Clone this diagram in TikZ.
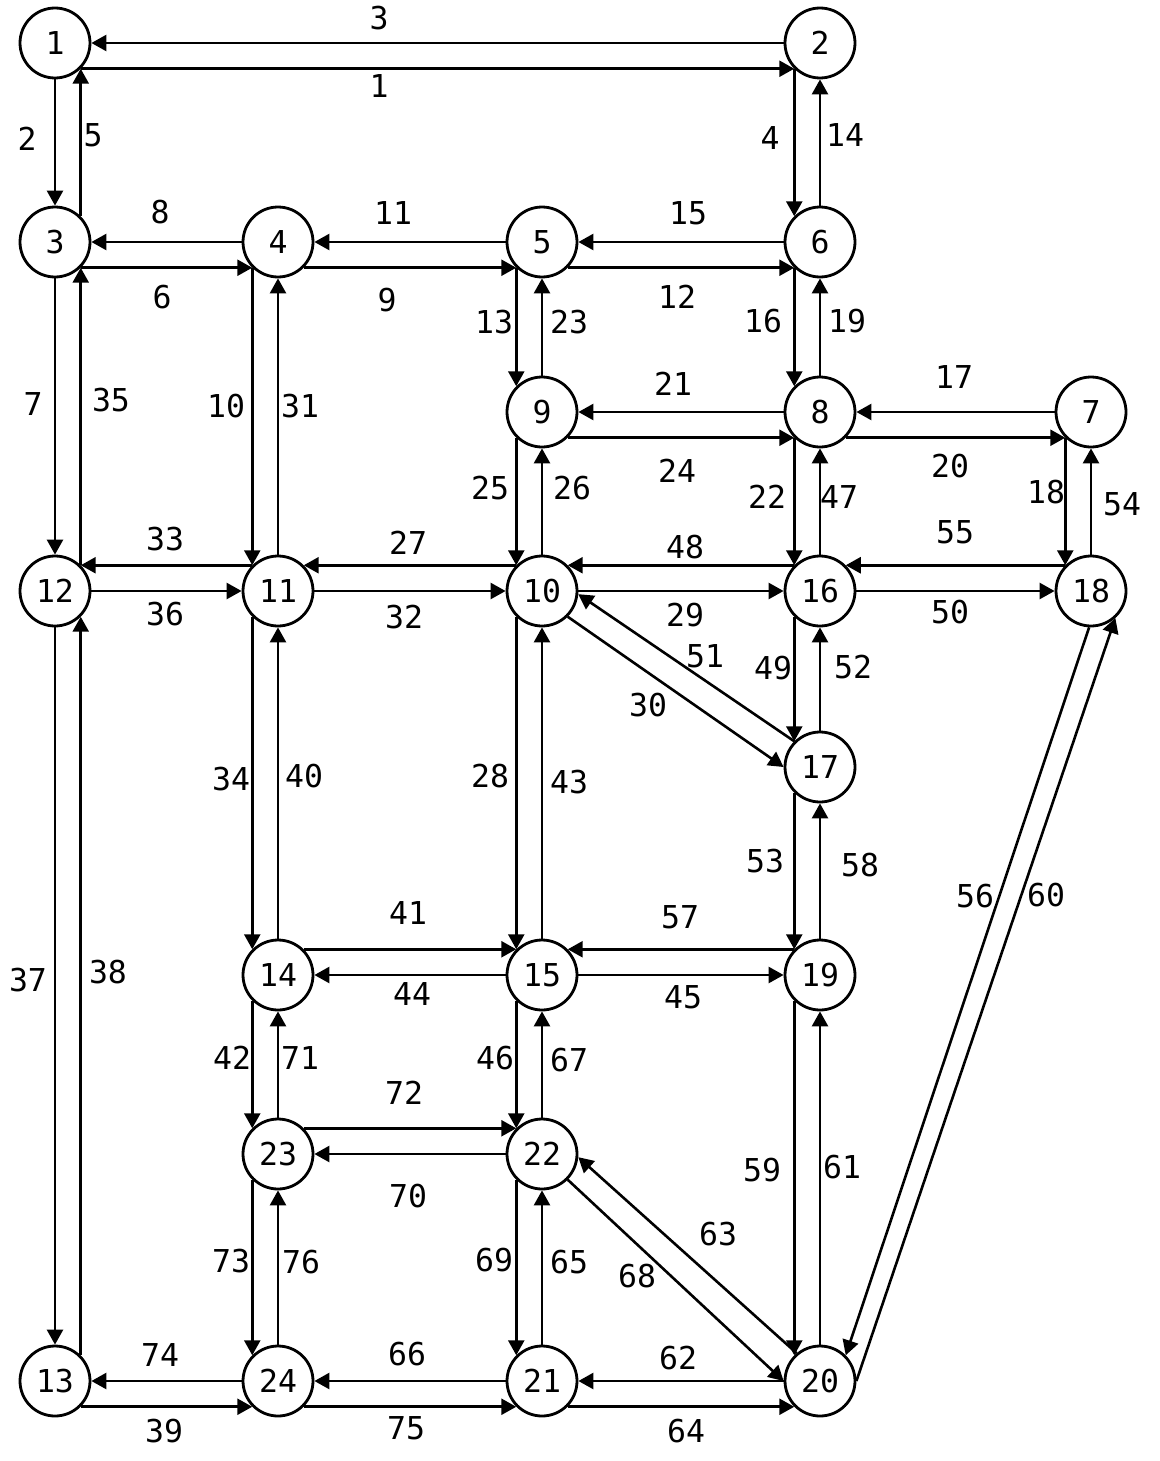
\documentclass[tikz,border=0pt]{standalone}
\usepackage{fontspec}
\newfontfamily\monof{DejaVu Sans Mono}
\usetikzlibrary{arrows.meta}
\begin{document}
\begin{tikzpicture}[x=0.5pt,y=-0.5pt,
  nd/.style={circle,draw,line width=1.4pt,minimum size=35pt,inner sep=0pt,font=\monof\fontsize{15.75}{16}\selectfont},
  lb/.style={inner sep=0pt,font=\monof\fontsize{15.75}{16}\selectfont},
  ar/.style={line width=1.3pt,-{Triangle[length=7.5pt,width=8pt]}}]
\useasboundingbox[fill=white] (0,0) rectangle (1160,1461);
% nodes
\foreach \n/\x/\y in {1/55/43,2/820/43,3/55/242,4/278/242,5/542/242,6/820/242,
  7/1091/412,8/820/412,9/542/412,10/542/591,11/278/591,12/55/591,13/55/1381,
  14/278/975,15/542/975,16/820/591,17/820/767,18/1091/591,19/820/975,
  20/820/1381,21/542/1381,22/542/1154,23/278/1154,24/278/1381}
  \node[nd] (n\n) at (\x,\y) {\n};
% horizontal pairs: centre line right-to-left, lower line left-to-right
\foreach \a/\b in {1/2,3/4,4/5,5/6,9/8,8/7,13/24,24/21,21/20}{
  \draw[ar] (n\b) -- (n\a);
  \draw[ar] (n\a.-45) -- (n\b.-135);
}
% horizontal pairs with upper offset
\draw[ar] (n11.135) -- (n12.45); \draw[ar] (n12) -- (n11);
\draw[ar] (n10.135) -- (n11.45); \draw[ar] (n11) -- (n10);
\draw[ar] (n16.135) -- (n10.45); \draw[ar] (n10) -- (n16);
\draw[ar] (n18.135) -- (n16.45); \draw[ar] (n16) -- (n18);
\draw[ar] (n14.45) -- (n15.135); \draw[ar] (n15) -- (n14);
\draw[ar] (n19.135) -- (n15.45); \draw[ar] (n15) -- (n19);
\draw[ar] (n23.45) -- (n22.135); \draw[ar] (n22) -- (n23);
% vertical pairs, left column (right offset)
\foreach \a/\b in {1/3,3/12,12/13}{
  \draw[ar] (n\a) -- (n\b);
  \draw[ar] (n\b.45) -- (n\a.-45);
}
% vertical pairs with left offset
\foreach \a/\b in {2/6,4/11,11/14,14/23,23/24,5/9,9/10,10/15,15/22,22/21,6/8,8/16,16/17,17/19,19/20,7/18}{
  \draw[ar] (n\a.-135) -- (n\b.135);
  \draw[ar] (n\b) -- (n\a);
}
% diagonals
\draw[ar] (n10.-45) -- (n17.180);
\draw[ar] (n17.135) -- (n10.-5);
\draw[ar] (n22.-45) -- (n20.180);
\draw[ar] (n20.130) -- (n22.-5);
\draw[ar] (n18.-93) -- (n20.45);
\draw[ar] (n20.0) -- (n18.-48);
% link labels
\foreach \n/\x/\y in {1/379/86,2/27/139,3/379/18,4/770/138,5/93/135,6/162/297,
  7/33/404,8/160/212,9/387/300,10/226/406,11/393/213,12/677/297,13/494/322,
  14/845/135,15/688/213,16/763/321,17/954/377,18/1046/492,19/847/321,20/950/466,
  21/673/384,22/767/497,23/569/322,24/677/471,25/490/488,26/572/488,27/408/543,
  28/490/776,29/685/615,30/648/705,31/300/406,32/404/617,33/165/539,34/231/779,
  35/111/400,36/165/614,37/28/980,38/108/972,39/164/1431,40/304/776,41/408/913,
  42/232/1058,43/569/782,44/412/994,45/683/997,46/495/1058,47/839/497,48/685/547,
  49/773/668,50/950/612,51/705/656,52/853/667,53/765/861,54/1122/504,55/955/532,
  56/975/896,57/680/917,58/860/865,59/762/1170,60/1046/895,61/842/1167,62/678/1358,
  63/718/1234,64/686/1431,65/569/1262,66/407/1354,67/569/1060,68/637/1276,
  69/494/1260,70/408/1196,71/300/1058,72/404/1093,73/231/1261,74/160/1355,
  75/406/1428,76/301/1262}
  \node[lb] (e\n) at (\x,\y) {\n};
\end{tikzpicture}
\end{document}
